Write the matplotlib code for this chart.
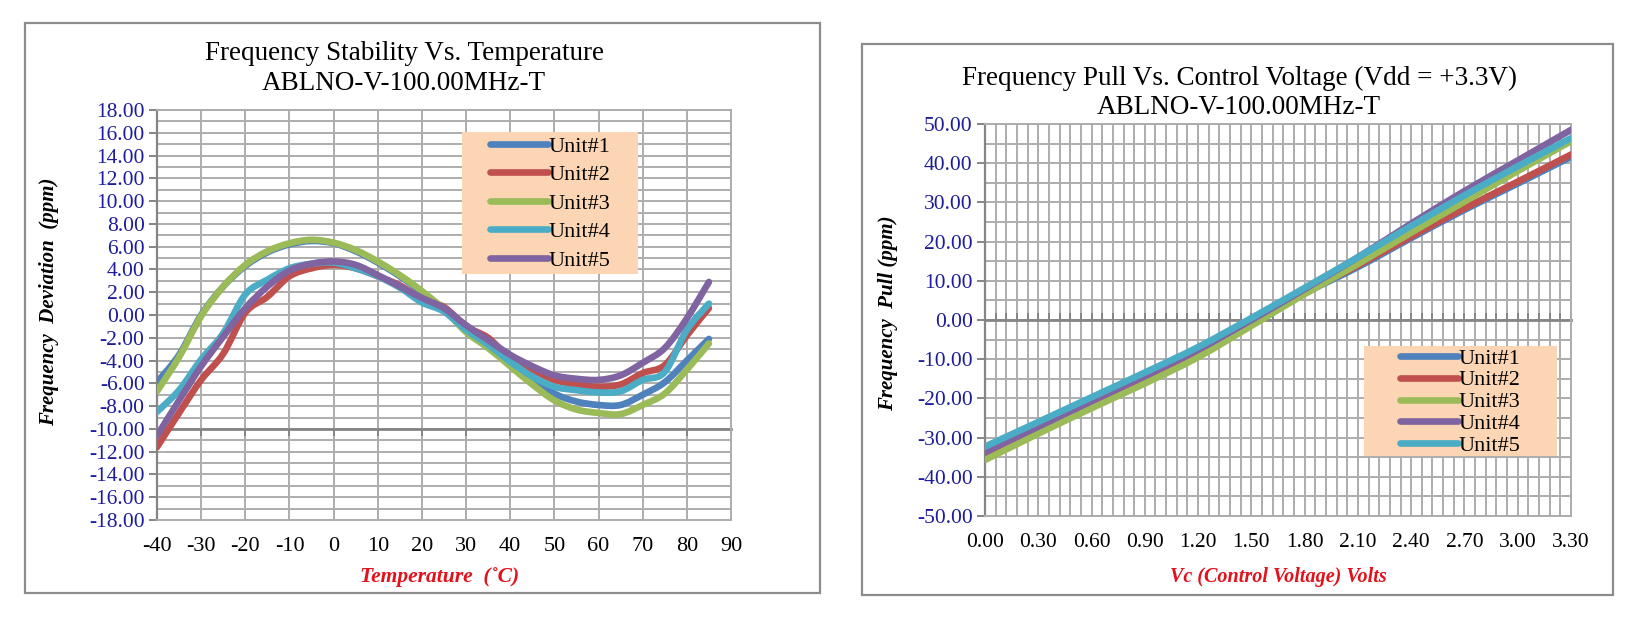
import matplotlib
matplotlib.use("Agg")
import matplotlib.pyplot as plt
from matplotlib.patches import Rectangle, PathPatch
from matplotlib.path import Path
from matplotlib.lines import Line2D
from matplotlib.ticker import MultipleLocator, FormatStrFormatter

plt.rcParams['font.family'] = ['Liberation Serif', 'DejaVu Serif']
plt.rcParams['axes.unicode_minus'] = False

W, H = 1642, 624

# ---- data: frequency stability vs temperature ----
temps = [-40, -35, -30, -25, -20, -15, -10, -5, 0, 5, 10, 15, 20,
         25, 30, 35, 40, 45, 50, 55, 60, 65, 70, 75, 80, 85]
stab_u1 = [-5.9, -3.5, 0.0, 2.5, 4.3, 5.5, 6.2, 6.5, 6.3, 5.6, 4.6, 3.4, 2.0,
           0.4, -1.3, -2.6, -4.1, -5.6, -6.9, -7.6, -7.9, -7.9, -7.0, -5.9, -4.0, -2.1]
stab_u2 = [-11.6, -8.6, -5.7, -3.4, 0.2, 1.6, 3.4, 4.1, 4.4, 4.1, 3.4, 2.6, 1.4,
           0.7, -1.0, -2.0, -3.8, -4.8, -5.7, -6.1, -6.3, -6.1, -5.1, -4.4, -1.8, 0.6]
stab_u3 = [-6.7, -3.7, -0.1, 2.5, 4.4, 5.6, 6.3, 6.6, 6.35, 5.7, 4.7, 3.5, 2.1,
           0.5, -1.5, -2.9, -4.5, -6.1, -7.5, -8.3, -8.6, -8.7, -7.9, -6.9, -4.8, -2.5]
stab_u4 = [-8.5, -6.6, -3.9, -1.6, 1.8, 3.1, 4.1, 4.5, 4.6, 4.1, 3.4, 2.4, 1.1,
           0.3, -1.3, -2.6, -4.1, -5.4, -6.3, -6.6, -6.8, -6.7, -5.7, -5.0, -1.3, 1.0]
stab_u5 = [-10.6, -7.5, -4.5, -1.9, 0.6, 2.5, 3.9, 4.5, 4.7, 4.4, 3.5, 2.5, 1.5,
           0.6, -0.9, -2.2, -3.5, -4.5, -5.3, -5.6, -5.7, -5.3, -4.2, -2.9, -0.3, 2.9]

# ---- data: frequency pull vs control voltage ----
vc = [0.0, 0.3, 0.6, 0.9, 1.2, 1.5, 1.8, 2.1, 2.4, 2.7, 3.0, 3.3]
pull_u1 = [-34.2, -27.6, -21.1, -14.8, -8.3, -0.6, 6.8, 13.5, 20.9, 28.1, 34.8, 41.6]
pull_u2 = [-34.6, -27.9, -21.4, -15.0, -8.5, -0.8, 7.0, 13.9, 21.3, 28.5, 35.3, 42.2]
pull_u3 = [-35.7, -29.0, -22.5, -16.2, -9.5, -1.5, 6.6, 14.3, 22.3, 30.2, 38.0, 45.6]
pull_u4 = [-33.7, -27.2, -20.7, -14.3, -7.6, 0.0, 7.9, 16.0, 24.6, 32.9, 40.7, 48.5]
pull_u5 = [-32.3, -26.0, -19.7, -13.4, -6.9, 0.5, 8.2, 16.0, 24.0, 31.8, 39.2, 46.4]

labels = ['Unit#1', 'Unit#2', 'Unit#3', 'Unit#4', 'Unit#5']
blue, red, green, purple, cyan = '#4F81BD', '#C0504D', '#9BBB59', '#8064A2', '#4BACC6'
stab_colors = [blue, red, green, cyan, purple]
pull_colors = [blue, red, green, purple, cyan]

grid_c = '#adadad'
axis_c = '#858585'
navy = '#1c1c9c'
peach = '#FCD5B4'
LW = 4.8


def fx(px):
    return px / W


def fy(py):
    return 1 - py / H


def box(x0, y0, x1, y1):
    return [fx(x0), fy(y1), (x1 - x0) / W, (y1 - y0) / H]


def smooth_path(x, y):
    # Excel-like smoothed line: cubic bezier through the points
    pts = list(zip(x, y))
    n = len(pts)
    verts = [pts[0]]
    codes = [Path.MOVETO]
    for i in range(n - 1):
        p0 = pts[i - 1] if i > 0 else pts[i]
        p1, p2 = pts[i], pts[i + 1]
        p3 = pts[i + 2] if i + 2 < n else pts[i + 1]
        c1 = (p1[0] + (p2[0] - p0[0]) / 6, p1[1] + (p2[1] - p0[1]) / 6)
        c2 = (p2[0] - (p3[0] - p1[0]) / 6, p2[1] - (p3[1] - p1[1]) / 6)
        verts += [c1, c2, p2]
        codes += [Path.CURVE4] * 3
    return Path(verts, codes)


def style_axes(ax, ylim, xmaj, xmin, ymaj, ymin, cross, xsize):
    ax.set_ylim(*ylim)
    ax.xaxis.set_major_locator(MultipleLocator(xmaj))
    if xmin:
        ax.xaxis.set_minor_locator(MultipleLocator(xmin))
    ax.yaxis.set_major_locator(MultipleLocator(ymaj))
    ax.yaxis.set_minor_locator(MultipleLocator(ymin))
    ax.grid(which='both', color=grid_c, lw=1.4)
    ax.set_axisbelow(True)
    for s in ['top', 'right', 'bottom']:
        ax.spines[s].set_color(grid_c)
        ax.spines[s].set_linewidth(1.4)
    ax.spines['left'].set_color(axis_c)
    ax.spines['left'].set_linewidth(1.6)
    ax.tick_params(axis='y', which='major', direction='out', length=6, width=1.4,
                   color=axis_c, labelcolor=navy, labelsize=15.5, pad=3)
    ax.tick_params(axis='y', which='minor', length=0)
    ax.tick_params(axis='x', which='both', length=0, labelsize=xsize, pad=12)
    ax.yaxis.set_major_formatter(FormatStrFormatter('%.2f'))
    # horizontal axis line where the x axis crosses
    frac = (cross - ylim[0]) / (ylim[1] - ylim[0])
    sec = ax.secondary_xaxis(frac)
    sec.set_zorder(1)
    sec.xaxis.set_major_locator(MultipleLocator(xmaj))
    if xmin:
        sec.xaxis.set_minor_locator(MultipleLocator(xmin))
    for s in sec.spines.values():
        s.set_color(axis_c)
        s.set_linewidth(2.0)
    sec.tick_params(which='both', direction='out', length=5, width=1.4,
                    color=axis_c, labelbottom=False, labeltop=False)


def draw_series(ax, x, series, colors):
    handles = []
    for vals, c in zip(series, colors):
        ax.add_patch(PathPatch(smooth_path(x, vals), fill=False, ec=c, lw=LW,
                               capstyle='round', joinstyle='round', zorder=3))
        handles.append(Line2D([], [], color=c, lw=LW, solid_capstyle='round'))
    return handles


fig = plt.figure(figsize=(W / 100, H / 100), dpi=100)
fig.patch.set_facecolor('white')

# panel frames
for x0, y0, x1, y1 in [(25, 23, 820, 593), (862, 44, 1613, 595)]:
    fig.patches.append(Rectangle((fx(x0), fy(y1)), (x1 - x0) / W, (y1 - y0) / H,
                                 transform=fig.transFigure, fill=False,
                                 ec='#8c8c8c', lw=1.6, zorder=0))

# ---------- left chart ----------
ax1 = fig.add_axes(box(157, 110, 731, 520))
h1 = draw_series(ax1, temps, [stab_u1, stab_u2, stab_u3, stab_u4, stab_u5], stab_colors)
ax1.set_xlim(-40, 90)
style_axes(ax1, (-18, 18), 10, None, 2, 1, -10, 16)
ax1.xaxis.set_major_formatter(FormatStrFormatter('%d'))

fig.text(fx(404), fy(54), 'Frequency Stability Vs. Temperature', ha='center', va='center', fontsize=19.5)
fig.text(fx(404), fy(83), 'ABLNO-V-100.00MHz-T', ha='center', va='center', fontsize=19.5)
fig.text(fx(49), fy(302), 'Frequency  Deviation  (ppm)', rotation=90, ha='center', va='center',
         fontsize=15, fontweight='bold', fontstyle='italic')
fig.text(fx(440), fy(577), 'Temperature  (\u02daC)', ha='center', va='center',
         fontsize=15.5, fontweight='bold', fontstyle='italic', color='#e3111b')

fig.patches.append(Rectangle((fx(462), fy(274)), 176 / W, 142 / H, transform=fig.transFigure,
                             fc=peach, ec='none', zorder=2))
fig.legend(h1, labels, loc='upper left', bbox_to_anchor=(fx(490), fy(136)),
           bbox_transform=fig.transFigure, frameon=False, borderpad=0, borderaxespad=0,
           handlelength=2.6, handletextpad=0.05, labelspacing=0.36, fontsize=16)

# ---------- right chart ----------
ax2 = fig.add_axes(box(985, 124, 1571, 516))
h2 = draw_series(ax2, vc, [pull_u1, pull_u2, pull_u3, pull_u4, pull_u5], pull_colors)
ax2.set_xlim(0, 3.3)
style_axes(ax2, (-50, 50), 0.3, 0.06, 10, 5, 0, 15.5)
ax2.xaxis.set_major_formatter(FormatStrFormatter('%.2f'))

fig.text(fx(1239), fy(78), 'Frequency Pull Vs. Control Voltage (Vdd = +3.3V)', ha='center', va='center', fontsize=19.5)
fig.text(fx(1239), fy(107), 'ABLNO-V-100.00MHz-T', ha='center', va='center', fontsize=19.5)
fig.text(fx(888), fy(313), 'Frequency  Pull (ppm)', rotation=90, ha='center', va='center',
         fontsize=15, fontweight='bold', fontstyle='italic')
fig.text(fx(1278), fy(577), 'Vc (Control Voltage) Volts', ha='center', va='center',
         fontsize=14.5, fontweight='bold', fontstyle='italic', color='#e3111b')

fig.patches.append(Rectangle((fx(1364), fy(456)), 193 / W, 110 / H, transform=fig.transFigure,
                             fc=peach, ec='none', zorder=2))
fig.legend(h2, labels, loc='upper left', bbox_to_anchor=(fx(1400), fy(348)),
           bbox_transform=fig.transFigure, frameon=False, borderpad=0, borderaxespad=0,
           handlelength=2.6, handletextpad=0.05, labelspacing=0.06, fontsize=16)

fig.savefig('out.png', dpi=100, facecolor='white')
